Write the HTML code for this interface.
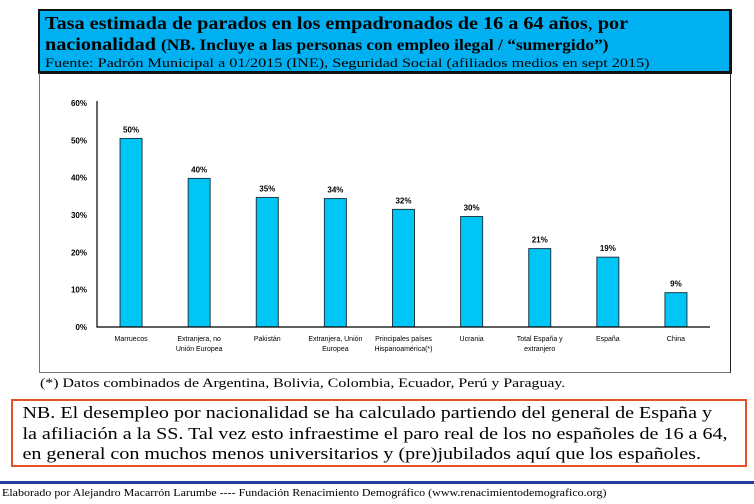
<!DOCTYPE html>
<html><head><meta charset="utf-8"><style>
body{margin:0;width:754px;height:504px;background:#fff;position:relative;overflow:hidden;font-family:"Liberation Serif",serif}
.abs{position:absolute}
.sx{display:inline-block;transform-origin:0 0;white-space:nowrap}
</style></head><body>
<div class="abs" style="left:38px;top:9px;width:689px;height:60px;background:#00b0f0;border:2px solid #111;border-right-width:3px;border-bottom-width:3px">
<div class="sx" style="position:absolute;left:5px;top:2px;font-weight:bold;font-size:18px;line-height:21px;color:#000;transform:scaleX(1.12)">Tasa estimada de parados en los empadronados de 16 a 64 años<span style="font-weight:normal">,</span> por<br>nacionalidad <span style="font-size:15.5px">(NB. Incluye a las personas con empleo ilegal / “sumergido”)</span></div>
<div class="sx" style="position:absolute;left:5px;top:44px;font-size:13px;color:#000;transform:scaleX(1.245)">Fuente: Padrón Municipal a 01/2015 (INE), Seguridad Social (afiliados medios en sept 2015)</div>
</div>
<div class="abs" style="left:39px;top:73px;width:690px;height:299px;border:1px solid #777;border-top:none;border-right:1px solid #222"></div>
<svg class="abs" style="left:0;top:0" width="754" height="504" id="chart"></svg>
<div class="abs sx" style="left:40px;top:375px;font-size:13px;transform:scaleX(1.22)">(*) Datos combinados de Argentina, Bolivia, Colombia, Ecuador, Perú y Paraguay.</div>
<div class="abs" style="left:11px;top:399px;border:2px solid #e8502a;box-sizing:border-box;width:736px;height:68px;overflow:hidden">
<div class="sx" style="font-size:17px;line-height:20.5px;padding:2px 0 0 8px;transform:scaleX(1.18)">NB. El desempleo por nacionalidad se ha calculado partiendo del general de España y<br>la afiliación a la SS. Tal vez esto infraestime el paro real de los no españoles de 16 a 64,<br>en general con muchos menos universitarios y (pre)jubilados aquí que los españoles.</div></div>
<div class="abs" style="left:0;top:481px;width:754px;height:3px;background:#1f3f9a"></div>
<div class="abs sx" style="left:2px;top:488px;font-size:10px;transform:scaleX(1.2)">Elaborado por Alejandro Macarrón Larumbe ---- Fundación Renacimiento Demográfico (www.renacimientodemografico.org)</div>
<script>
const categories=[["Marruecos"],["Extranjera, no","Unión Europea"],["Pakistán"],["Extranjera, Unión","Europea"],["Principales países","Hispanoamérica(*)"],["Ucrania"],["Total España y","extranjero"],["España"],["China"]];
const values=[50.5,39.8,34.7,34.4,31.5,29.6,21.0,18.7,9.2];
const valueLabels=["50%","40%","35%","34%","32%","30%","21%","19%","9%"];
const yTicks=[0,10,20,30,40,50,60];
const svg=document.getElementById('chart');const NS='http://www.w3.org/2000/svg';
const x0=97,x1=710,y0=327,y1=103,ymax=60;
const band=(x1-x0)/categories.length;
const xs=i=>x0+band*(i+0.5);
const ys=v=>y0-(v/ymax)*(y0-y1);
function mk(t,a,txt){const e=document.createElementNS(NS,t);for(const k in a)e.setAttribute(k,a[k]);if(txt!==undefined)e.textContent=txt;svg.appendChild(e);return e;}
const F='"Liberation Sans",sans-serif';
yTicks.forEach(t=>{const e=mk('text',{x:x0-10,y:ys(t)+3,'text-anchor':'end','font-size':8,'font-weight':'bold','font-family':F},t+'%');

});
values.forEach((v,i)=>{const b=mk('rect',{x:xs(i)-11,y:ys(v),width:22,height:y0-ys(v),fill:'#00c6f6',stroke:'#1c3a4a','stroke-width':1});


const l=mk('text',{x:xs(i),y:ys(v)-6,'text-anchor':'middle','font-size':8,'font-weight':'bold','font-family':F},valueLabels[i]);


categories[i].forEach((s,j)=>{const c=mk('text',{x:xs(i),y:y0+14+j*10,'text-anchor':'middle','font-size':7,'font-family':F},s);

});});
const ax=mk('path',{d:`M${x0},${y1-2}V${y0}H${x1}`,fill:'none',stroke:'#000','stroke-width':1.2});


</script>
</body></html>
